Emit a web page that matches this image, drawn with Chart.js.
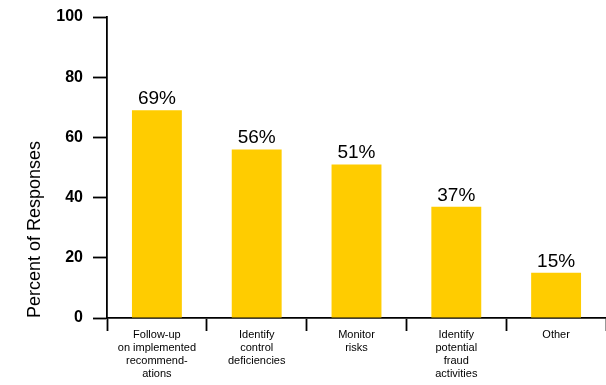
<!DOCTYPE html>
<html>
<head>
<meta charset="utf-8">
<script src="https://cdn.jsdelivr.net/npm/chart.js@4"></script>
<style>
  html, body { margin: 0; padding: 0; background: #fff; }
  #wrap { width: 606px; height: 385px; position: relative; }
</style>
</head>
<body>
<div id="wrap"><canvas id="chart"></canvas></div>
<script>
// Share of respondents citing each use
const categories = [
  ['Follow-up', 'on implemented', 'recommend-', 'ations'],
  ['Identify', 'control', 'deficiencies'],
  ['Monitor', 'risks'],
  ['Identify', 'potential', 'fraud', 'activities'],
  ['Other']
];
const percentValues = [69, 56, 51, 37, 15];
const yTicks = [0, 20, 40, 60, 80, 100];

const FONT = "'Liberation Sans', Arial, Helvetica, sans-serif";

// Writes the percentage above each bar
const valueLabels = {
  id: 'valueLabels',
  afterDatasetsDraw(chart) {
    const ctx = chart.ctx;
    const meta = chart.getDatasetMeta(0);
    ctx.save();
    ctx.font = '19px ' + FONT;
    ctx.fillStyle = '#000';
    ctx.textAlign = 'center';
    ctx.textBaseline = 'alphabetic';
    meta.data.forEach((bar, i) => {
      ctx.fillText(percentValues[i] + '%', bar.x, bar.y - 6);
    });
    ctx.restore();
  }
};

new Chart(document.getElementById('chart'), {
  type: 'bar',
  data: {
    labels: categories,
    datasets: [{
      data: percentValues,
      backgroundColor: '#FFCC00',
      borderWidth: 0,
      categoryPercentage: 1,
      barPercentage: 0.5
    }]
  },
  options: {
    responsive: true,
    maintainAspectRatio: false,
    animation: false,
    layout: { padding: { top: 0, right: 0, left: 0, bottom: 0 } },
    plugins: {
      legend: { display: false },
      tooltip: { enabled: false }
    },
    scales: {
      x: {
        offset: true,
        grid: {
          offset: true,
          drawOnChartArea: false,
          drawTicks: true,
          tickLength: 13,
          tickWidth: 1.8,
          tickColor: '#000'
        },
        border: { color: '#000', width: 1.8 },
        ticks: {
          color: '#000',
          font: { family: FONT, size: 11 },
          padding: -3,
          maxRotation: 0,
          autoSkip: false
        },
        afterFit(scale) { scale.height = 67; }
      },
      y: {
        min: 0,
        max: 100,
        afterBuildTicks(scale) { scale.ticks = yTicks.map(v => ({ value: v })); },
        grid: {
          drawOnChartArea: false,
          drawTicks: true,
          tickLength: 14,
          tickWidth: 1.8,
          tickColor: '#000'
        },
        border: { color: '#000', width: 1.8 },
        ticks: {
          color: '#000',
          font: { family: FONT, size: 16, weight: 'bold' },
          padding: 10
        },
        title: {
          display: true,
          text: 'Percent of Responses',
          align: 'start',
          color: '#000',
          font: { family: FONT, size: 18 },
          padding: { top: 24, bottom: 3 }
        },
        afterFit(scale) {
          scale.width = 107;
          scale.paddingTop = 17;
        }
      }
    }
  },
  plugins: [valueLabels]
});
</script>
</body>
</html>
